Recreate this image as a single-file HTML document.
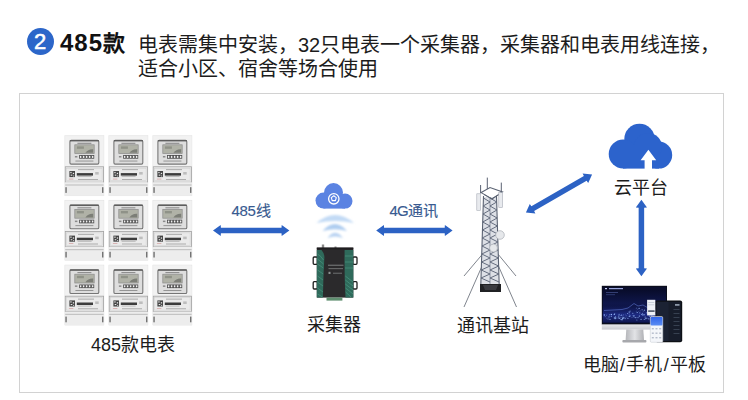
<!DOCTYPE html>
<html lang="zh-CN"><head><meta charset="utf-8">
<style>
html,body{margin:0;padding:0;background:#fff;}
body{width:748px;height:400px;position:relative;overflow:hidden;font-family:"Liberation Sans",sans-serif;color:#1c1c1c;}
.t{position:absolute;white-space:nowrap;}
</style></head><body>

<!-- header -->
<div class="t" style="left:27px;top:28px;width:27px;height:27px;border-radius:50%;background:#2c66c9;"></div>
<div class="t" style="left:26.5px;top:27.2px;width:27px;font-size:22px;line-height:30px;color:#fff;-webkit-text-stroke:0.5px #fff;text-align:center;">2</div>
<div class="t" id="h485" style="left:60px;top:28px;font-size:24px;font-weight:bold;line-height:30px;color:#111;letter-spacing:1px;">485<span style="font-size:22px;margin-left:0px;letter-spacing:0">款</span></div>
<div class="t" id="l1" style="left:138px;top:33px;font-size:20px;line-height:24px;">电表需集中安装，32只电表一个采集器，采集器和电表用线连接，</div>
<div class="t" id="l2" style="left:138px;top:57px;font-size:20px;line-height:24px;">适合小区、宿舍等场合使用</div>

<!-- frame -->
<div style="position:absolute;left:19px;top:93px;width:703px;height:298px;border:1px solid #d2d2d2;"></div>

<svg width="748" height="400" style="position:absolute;left:0;top:0">
<defs>
  <symbol id="meter" viewBox="0 0 40 61">
    <rect x="0.3" y="0.3" width="39.4" height="60.4" fill="#eeeeee" stroke="#dedede" stroke-width="0.6"/>
    <rect x="1" y="1" width="38" height="30" fill="#f2f2f2"/>
    <rect x="5.5" y="5.2" width="28.9" height="23.7" rx="1.3" fill="#dedede" stroke="#767676" stroke-width="1.1"/><rect x="5.5" y="4.8" width="28.9" height="1.4" fill="#5e5e5e"/>
    <rect x="10.4" y="9.6" width="19.4" height="8.8" fill="#b0b2a7" stroke="#8c8c8c" stroke-width="0.7"/>
    <path d="M21 17.6 Q24 13.5 28.8 14 L28.8 17.6 Z" fill="#7c7e77"/>
    <rect x="12.5" y="11.2" width="7" height="2.4" fill="#8f9288"/>
    <rect x="13" y="7.6" width="14" height="0.9" fill="#7a7a7a"/>
    <g fill="#f0f0f0" stroke="#4a4a4a" stroke-width="0.8"><rect x="15.2" y="20.3" width="2.2" height="2.8"/><rect x="18.2" y="20.3" width="2.2" height="2.8"/><rect x="21.2" y="20.3" width="2.2" height="2.8"/><rect x="24.2" y="20.3" width="2.2" height="2.8"/><rect x="27.2" y="20.3" width="2.2" height="2.8"/></g>
    <rect x="10.5" y="20.8" width="2.5" height="1.5" fill="#8a8a8a"/>
    <rect x="11" y="25.4" width="18" height="0.9" fill="#8d8d8d"/>
    <rect x="0.8" y="31.6" width="38.4" height="15.4" fill="#eaeaea" stroke="#a2a2a2" stroke-width="0.8"/>
    <rect x="2.3" y="33.1" width="35.4" height="12.4" fill="none" stroke="#cdcdcd" stroke-width="0.5"/>
    <rect x="5" y="35.8" width="5.6" height="6.1" fill="#444"/>
    <g fill="#e6e6e6"><rect x="5.9" y="36.7" width="1.3" height="1.3"/><rect x="8.4" y="37.6" width="1.3" height="1.3"/><rect x="6.3" y="39.4" width="1.6" height="1.1"/><rect x="8.8" y="40.3" width="1" height="1"/></g>
    <rect x="13.6" y="34.1" width="16" height="0.8" fill="#9a9a9a"/>
    <rect x="12.4" y="37.9" width="16.2" height="2.5" fill="#3c3c3c"/>
    <rect x="13.2" y="41.1" width="14" height="0.7" fill="#a8a8a8"/>
    <rect x="13.6" y="43.8" width="20" height="0.8" fill="#9e9e9e"/>
    <rect x="4.5" y="43.5" width="4.5" height="0.7" fill="#d09c9c"/>
    <rect x="30.8" y="36.8" width="3.5" height="2.6" fill="#bdbdbd"/>
    <rect x="0.8" y="47" width="38.4" height="13.4" fill="#ededed"/>
    <rect x="0.8" y="49.2" width="38.4" height="1.2" fill="#c4c4c4"/>
    <rect x="1" y="52" width="1.3" height="5.7" fill="#666"/>
    <rect x="37.7" y="52" width="1.3" height="5.7" fill="#666"/>
  </symbol>
  <symbol id="arr" viewBox="-38 -7 76 14" overflow="visible">
    <path d="M-38 0 L-29 -6.5 L-30 -3 L30 -3 L29 -6.5 L38 0 L29 6.5 L30 3 L-30 3 L-29 6.5 Z" fill="#2c62c4"/>
  </symbol>
  <linearGradient id="wifi" x1="0" y1="0" x2="0" y2="1">
    <stop offset="0" stop-color="#9cc6ef"/><stop offset="1" stop-color="#e5f0fb"/>
  </linearGradient>
  <linearGradient id="scr" x1="0" y1="0" x2="0" y2="1">
    <stop offset="0" stop-color="#070a24"/><stop offset="0.45" stop-color="#0f164a"/><stop offset="1" stop-color="#0b1140"/>
  </linearGradient>
</defs>

<!-- meters -->
<use href="#meter" x="64.4" y="135.2" width="40" height="61"/>
<use href="#meter" x="108.4" y="135.2" width="40" height="61"/>
<use href="#meter" x="152.4" y="135.2" width="40" height="61"/>
<use href="#meter" x="64.4" y="199.8" width="40" height="61"/>
<use href="#meter" x="108.4" y="199.8" width="40" height="61"/>
<use href="#meter" x="152.4" y="199.8" width="40" height="61"/>
<use href="#meter" x="64.4" y="264.6" width="40" height="61"/>
<use href="#meter" x="108.4" y="264.6" width="40" height="61"/>
<use href="#meter" x="152.4" y="264.6" width="40" height="61"/>

<!-- arrows -->
<g transform="translate(251.2 230.5)"><path d="M-38.2 0 L-30.5 -5.6 L-30.3 -2.75 L30.3 -2.75 L30.5 -5.6 L38.2 0 L30.5 5.6 L30.3 2.75 L-30.3 2.75 L-30.5 5.6 Z" fill="#2c62c4"/></g>
<g transform="translate(414.4 230.5)"><path d="M-38.2 0 L-30.5 -5.6 L-30.3 -2.75 L30.3 -2.75 L30.5 -5.6 L38.2 0 L30.5 5.6 L30.3 2.75 L-30.3 2.75 L-30.5 5.6 Z" fill="#2c62c4"/></g>
<g transform="translate(559 193.5) rotate(-30)"><path d="M-38.2 0 L-30.5 -5.6 L-30.3 -2.75 L30.3 -2.75 L30.5 -5.6 L38.2 0 L30.5 5.6 L30.3 2.75 L-30.3 2.75 L-30.5 5.6 Z" fill="#2c62c4"/></g>
<g transform="translate(641.4 238) rotate(90)"><path d="M-38.2 0 L-30.5 -5.6 L-30.3 -2.75 L30.3 -2.75 L30.5 -5.6 L38.2 0 L30.5 5.6 L30.3 2.75 L-30.3 2.75 L-30.5 5.6 Z" fill="#2c62c4"/></g>

<!-- small cloud -->
<g fill="#5b83e2">
  <circle cx="323.5" cy="200.6" r="8"/>
  <circle cx="333.5" cy="192.6" r="9.5"/>
  <circle cx="345" cy="201.1" r="7.5"/>
  <rect x="323.5" y="196" width="21.5" height="12.6"/>
</g>
<circle cx="333.8" cy="198.8" r="5.2" fill="none" stroke="#fff" stroke-width="1.3"/>
<path d="M333.8 195.8 L336.3 197.6 L335.4 200.6 L332.2 200.6 L331.3 197.6 Z" fill="none" stroke="#fff" stroke-width="1.1" stroke-linejoin="round"/>
<!-- wifi -->
<filter id="bl" x="-20%" y="-80%" width="140%" height="260%"><feGaussianBlur stdDeviation="0.9"/></filter>
<g filter="url(#bl)">
  <path d="M316.5 223 Q335 207 354 223 Q335 219 316.5 223 Z" fill="#c2daf5"/>
  <path d="M322.5 231 Q335 217 347 231 Q335 227.5 322.5 231 Z" fill="#afcdf0"/>
  <path d="M327.5 238 Q335 227.5 343 238 Q335 235 327.5 238 Z" fill="#b9d3f2"/>
</g>
<!-- collector device -->
<g>
  <rect x="313.2" y="257" width="4.2" height="7.3" rx="1" fill="none" stroke="#1e1e1e" stroke-width="1.3"/>
  <rect x="313.2" y="281.7" width="4.2" height="7.3" rx="1" fill="none" stroke="#1e1e1e" stroke-width="1.3"/>
  <rect x="352.8" y="257" width="4.2" height="7.3" rx="1" fill="none" stroke="#1e1e1e" stroke-width="1.3"/>
  <rect x="352.8" y="281.7" width="4.2" height="7.3" rx="1" fill="none" stroke="#1e1e1e" stroke-width="1.3"/>
  <rect x="321.8" y="244.5" width="2.4" height="4" fill="#8a8a8a"/>
  <rect x="334.5" y="246.5" width="2" height="2" fill="#8a8a8a"/>
  <rect x="316.8" y="247.6" width="36.5" height="50" fill="#2b2a2c"/>
  <path d="M316.8 250 L321.5 250 Q325 254 324.3 259 L323.6 273 L322.9 297.6 L316.8 297.6 Z" fill="#2f6a5b"/>
  <path d="M344.6 250 L353.3 250 L353.3 297.6 L345.5 297.6 Q344.2 275 344.6 250 Z" fill="#2f6a5b"/>
  <g stroke="#4f9c86" stroke-width="0.6" fill="none">
    <path d="M317.5 254 Q321 256 323.5 260 M317.5 259 L323.5 264 M317.5 264 L323.4 268 M317.5 270 L323.2 274 M317.5 276 L323 280 M317.5 282 L323 286 M317.5 288 L323 292 M317.5 294 L322.5 297"/>
    <path d="M345.3 276 L353 282 M345.3 280 L353 286 M345.3 284 L353 290 M345.5 288 L353 294 M345.6 292 L351 297 M345 256 L353 256 M345 262 L353 262 M345 268 L353 268"/>
  </g>
  <rect x="316.8" y="247.6" width="36.5" height="1.8" fill="#1e1d1f"/>
  <rect x="328" y="264.8" width="15.5" height="0.7" fill="#9ea2a2"/>
  <rect x="328.5" y="268.4" width="14.5" height="0.7" fill="#8a8e8e"/>
  <rect x="333" y="272.8" width="9" height="0.7" fill="#8a8e8e"/>
  <rect x="328.5" y="271.8" width="2" height="2.2" fill="#8d9191"/>
  <rect x="326.5" y="297.6" width="15.9" height="3" fill="#5f8f70"/>
</g>

<!-- tower -->
<g stroke="#707680" fill="none" stroke-width="0.9">
  <line x1="483" y1="253.5" x2="464" y2="276"/>
  <line x1="497.5" y1="253.5" x2="516" y2="276"/>
  <line x1="482.5" y1="265" x2="464" y2="307"/>
  <line x1="498" y1="265" x2="516.5" y2="307"/>
</g>
<path d="M483.5 197 L496.5 197 L499.2 285 L480.8 285 Z" fill="#dde0e6"/>
<g stroke="#5a6272" fill="none">
  <path d="M483.5 196 L480.8 285 M496.5 196 L499.2 285" stroke-width="1.1"/>
  <path d="M490 198 L490 285" stroke-width="0.8" stroke="#7a8292"/>
  <path d="M483.5 198.0 L490.0 202.0 L483.2 206.0 L490.0 210.0 L483.0 214.0 L490.0 218.0 L482.7 222.0 L490.0 226.0 L482.5 230.0 L490.0 234.0 L482.2 238.0 L490.0 242.0 L482.0 246.0 L490.0 250.0 L481.8 254.0 L490.0 258.0 L481.5 262.0 L490.0 266.0 L481.3 270.0 L490.0 274.0 L481.0 278.0 L490.0 282.0" stroke-width="0.95" stroke="#5e6678"/>
  <path d="M490.0 198.0 L496.7 202.0 L490.0 206.0 L496.9 210.0 L490.0 214.0 L497.1 218.0 L490.0 222.0 L497.4 226.0 L490.0 230.0 L497.6 234.0 L490.0 238.0 L497.9 242.0 L490.0 246.0 L498.1 250.0 L490.0 254.0 L498.4 258.0 L490.0 262.0 L498.6 266.0 L490.0 270.0 L498.9 274.0 L490.0 278.0 L499.1 282.0" stroke-width="0.95" stroke="#5e6678"/>
</g>
<g stroke="#5a6272" fill="none" stroke-width="1">
  <line x1="487.3" y1="177.6" x2="487.3" y2="189"/>
  <line x1="501.3" y1="182.6" x2="501.3" y2="193"/>
  <line x1="480.6" y1="185" x2="480.6" y2="193.5"/>
  <path d="M481.2 192.6 L490 187.6 L502.5 192 L491.9 198.9 Z" stroke-width="1.1"/>
  <path d="M484 194.5 L491.9 198.9 L500 194" stroke-width="0.9"/>
</g>
<rect x="476.8" y="193.8" width="3.8" height="16.5" fill="#e8eaee" stroke="#a8adb6" stroke-width="0.6"/>
<rect x="498.8" y="192.6" width="3.8" height="15" fill="#e8eaee" stroke="#a8adb6" stroke-width="0.6"/>
<circle cx="500" cy="235" r="4.3" fill="#e6e8eb" stroke="#a9adb4" stroke-width="0.7"/>
<circle cx="493.5" cy="248" r="4" fill="#e6e8eb" stroke="#a9adb4" stroke-width="0.7"/>
<path d="M480 284 L501 284 L501 292 L480 292 Z" fill="#202124"/>
<path d="M483 285 L498 285 L496 290 L485 290 Z" fill="#3a3b40"/>

<!-- big cloud -->
<g fill="#2c63cc">
  <circle cx="639.5" cy="139" r="15.2"/>
  <circle cx="623.2" cy="154.1" r="14.5"/>
  <circle cx="658.7" cy="155.1" r="13.5"/>
  <circle cx="648" cy="147" r="14"/>
  <rect x="623" y="145" width="36" height="23.6"/>
</g>
<path d="M648.4 149.8 L656.2 160.3 L652 160.3 L652 169 L644.6 169 L644.6 160.3 L640.6 160.3 Z" fill="#fff"/>

<!-- devices -->
<defs>
<linearGradient id="chin" x1="0" y1="0" x2="0" y2="1"><stop offset="0" stop-color="#e6e7ea"/><stop offset="1" stop-color="#c9cacf"/></linearGradient>
<linearGradient id="stand" x1="0" y1="0" x2="1" y2="0"><stop offset="0" stop-color="#b5b6ba"/><stop offset="0.5" stop-color="#e2e3e6"/><stop offset="1" stop-color="#b0b1b5"/></linearGradient>
<linearGradient id="band" x1="0" y1="0" x2="0" y2="1"><stop offset="0" stop-color="#1c2a80" stop-opacity="0"/><stop offset="0.55" stop-color="#2536a0" stop-opacity="0.7"/><stop offset="1" stop-color="#161f66" stop-opacity="0.5"/></linearGradient>
<linearGradient id="phone" x1="0" y1="0" x2="0" y2="1"><stop offset="0" stop-color="#2f64ea"/><stop offset="1" stop-color="#5b8df3"/></linearGradient>
</defs>
<rect x="601.8" y="285.8" width="65.2" height="38.8" fill="#0a0d1c"/>
<rect x="602.8" y="287" width="63.2" height="36" fill="url(#scr)"/>
<rect x="602.8" y="287" width="63.2" height="3" fill="#0b0f2c"/>
<rect x="605" y="288" width="2" height="1.2" fill="#cfd6ff"/>
<rect x="609" y="288" width="14" height="1.2" fill="#9aa6dd"/>
<rect x="606" y="292" width="12" height="0.6" fill="#5060a0"/>
<rect x="606" y="294.5" width="9" height="0.6" fill="#40508f"/>
<rect x="602.8" y="306" width="63.2" height="16" fill="url(#band)"/>
<path d="M604 310.5 L622 309.5 L628 308 L634 303.5 L638 306 L643 305 L650 309 L664 311" stroke="#6f8ef0" stroke-width="0.6" fill="none" opacity="0.8"/>
<circle cx="618.3" cy="316.3" r="0.48" fill="#9ec0ff" opacity="0.76"/>
<circle cx="641.5" cy="319.2" r="0.35" fill="#9ec0ff" opacity="0.90"/>
<circle cx="619.6" cy="318.4" r="0.70" fill="#9ec0ff" opacity="0.68"/>
<circle cx="654.2" cy="317.3" r="0.57" fill="#9ec0ff" opacity="0.49"/>
<circle cx="642.1" cy="309.8" r="0.53" fill="#9ec0ff" opacity="0.84"/>
<circle cx="644.3" cy="319.3" r="0.62" fill="#9ec0ff" opacity="0.75"/>
<circle cx="622.1" cy="319.8" r="0.65" fill="#9ec0ff" opacity="0.68"/>
<circle cx="647.1" cy="312.6" r="0.60" fill="#9ec0ff" opacity="0.95"/>
<circle cx="627.7" cy="313.6" r="0.51" fill="#9ec0ff" opacity="0.96"/>
<circle cx="656.7" cy="319.5" r="0.40" fill="#9ec0ff" opacity="0.53"/>
<circle cx="661.9" cy="317.8" r="0.57" fill="#9ec0ff" opacity="0.58"/>
<circle cx="634.4" cy="315.4" r="0.47" fill="#9ec0ff" opacity="0.75"/>
<circle cx="639.1" cy="308.3" r="0.59" fill="#9ec0ff" opacity="0.96"/>
<circle cx="655.4" cy="314.7" r="0.58" fill="#9ec0ff" opacity="0.50"/>
<circle cx="655.6" cy="314.8" r="0.67" fill="#9ec0ff" opacity="0.74"/>
<circle cx="646.8" cy="318.2" r="0.64" fill="#9ec0ff" opacity="0.74"/>
<circle cx="621.1" cy="319.6" r="0.65" fill="#9ec0ff" opacity="0.99"/>
<circle cx="609.3" cy="315.0" r="0.49" fill="#9ec0ff" opacity="0.49"/>
<circle cx="621.6" cy="315.0" r="0.66" fill="#9ec0ff" opacity="0.43"/>
<circle cx="640.9" cy="319.4" r="0.60" fill="#9ec0ff" opacity="0.60"/>
<circle cx="656.9" cy="314.9" r="0.53" fill="#9ec0ff" opacity="1.00"/>
<circle cx="622.6" cy="319.5" r="0.56" fill="#9ec0ff" opacity="0.42"/>
<circle cx="615.8" cy="317.1" r="0.56" fill="#9ec0ff" opacity="0.49"/>
<circle cx="606.5" cy="315.1" r="0.46" fill="#9ec0ff" opacity="0.98"/>
<circle cx="657.8" cy="318.1" r="0.51" fill="#9ec0ff" opacity="0.71"/>
<circle cx="642.6" cy="313.2" r="0.55" fill="#9ec0ff" opacity="0.77"/>
<circle cx="660.4" cy="317.4" r="0.50" fill="#9ec0ff" opacity="0.83"/>
<circle cx="618.3" cy="317.9" r="0.69" fill="#9ec0ff" opacity="0.71"/>
<circle cx="636.9" cy="319.9" r="0.50" fill="#9ec0ff" opacity="0.75"/>
<circle cx="605.2" cy="316.6" r="0.57" fill="#9ec0ff" opacity="0.44"/>
<circle cx="641.6" cy="314.4" r="0.59" fill="#9ec0ff" opacity="0.61"/>
<circle cx="646.4" cy="313.4" r="0.36" fill="#9ec0ff" opacity="0.44"/>
<circle cx="644.6" cy="310.2" r="0.44" fill="#9ec0ff" opacity="0.67"/>
<circle cx="639.6" cy="315.9" r="0.48" fill="#9ec0ff" opacity="0.59"/>
<circle cx="626.1" cy="315.7" r="0.46" fill="#9ec0ff" opacity="0.63"/>
<circle cx="650.3" cy="319.8" r="0.55" fill="#9ec0ff" opacity="0.84"/>
<circle cx="622.6" cy="318.5" r="0.63" fill="#9ec0ff" opacity="0.54"/>
<circle cx="615.2" cy="316.9" r="0.59" fill="#9ec0ff" opacity="0.46"/>
<circle cx="623.3" cy="317.8" r="0.64" fill="#9ec0ff" opacity="0.66"/>
<circle cx="655.3" cy="319.1" r="0.47" fill="#9ec0ff" opacity="0.79"/>
<circle cx="657.1" cy="317.7" r="0.43" fill="#9ec0ff" opacity="0.47"/>
<circle cx="635.8" cy="317.6" r="0.63" fill="#9ec0ff" opacity="0.90"/>
<circle cx="615.0" cy="318.0" r="0.63" fill="#9ec0ff" opacity="0.79"/>
<circle cx="652.4" cy="317.9" r="0.40" fill="#9ec0ff" opacity="0.58"/>
<circle cx="651.6" cy="318.3" r="0.47" fill="#9ec0ff" opacity="0.65"/>
<circle cx="629.2" cy="316.4" r="0.67" fill="#9ec0ff" opacity="0.49"/>
<circle cx="604.3" cy="315.0" r="0.66" fill="#9ec0ff" opacity="0.99"/>
<circle cx="630.1" cy="311.1" r="0.67" fill="#9ec0ff" opacity="0.53"/>
<circle cx="648.7" cy="313.7" r="0.58" fill="#9ec0ff" opacity="0.71"/>
<circle cx="621.3" cy="317.8" r="0.43" fill="#9ec0ff" opacity="0.44"/>
<circle cx="639.3" cy="316.3" r="0.63" fill="#9ec0ff" opacity="0.43"/>
<circle cx="658.2" cy="316.4" r="0.67" fill="#9ec0ff" opacity="0.94"/>
<circle cx="658.0" cy="317.0" r="0.35" fill="#9ec0ff" opacity="0.85"/>
<circle cx="614.3" cy="317.9" r="0.58" fill="#9ec0ff" opacity="0.71"/>
<circle cx="628.8" cy="312.0" r="0.56" fill="#9ec0ff" opacity="0.60"/>
<circle cx="619.1" cy="314.2" r="0.52" fill="#9ec0ff" opacity="0.87"/>
<circle cx="625.1" cy="318.6" r="0.54" fill="#9ec0ff" opacity="0.89"/>
<circle cx="614.3" cy="314.4" r="0.67" fill="#9ec0ff" opacity="0.88"/>
<circle cx="653.4" cy="320.0" r="0.57" fill="#9ec0ff" opacity="0.92"/>
<circle cx="607.0" cy="318.4" r="0.44" fill="#9ec0ff" opacity="0.72"/>
<circle cx="629.4" cy="315.8" r="0.62" fill="#9ec0ff" opacity="0.40"/>
<circle cx="607.3" cy="319.3" r="0.39" fill="#9ec0ff" opacity="0.44"/>
<circle cx="662.5" cy="315.7" r="0.38" fill="#9ec0ff" opacity="0.70"/>
<circle cx="623.0" cy="317.9" r="0.47" fill="#9ec0ff" opacity="0.79"/>
<circle cx="639.2" cy="315.4" r="0.42" fill="#9ec0ff" opacity="0.60"/>
<circle cx="611.4" cy="316.3" r="0.60" fill="#9ec0ff" opacity="0.63"/>
<circle cx="608.8" cy="318.9" r="0.48" fill="#9ec0ff" opacity="0.76"/>
<circle cx="651.0" cy="317.5" r="0.63" fill="#9ec0ff" opacity="0.77"/>
<circle cx="629.9" cy="316.6" r="0.52" fill="#9ec0ff" opacity="0.82"/>
<circle cx="629.2" cy="313.9" r="0.51" fill="#9ec0ff" opacity="0.55"/>
<circle cx="636.2" cy="311.1" r="0.38" fill="#9ec0ff" opacity="0.65"/>
<circle cx="629.6" cy="312.1" r="0.68" fill="#9ec0ff" opacity="0.62"/>
<circle cx="657.9" cy="315.9" r="0.44" fill="#9ec0ff" opacity="0.68"/>
<circle cx="611.4" cy="314.6" r="0.58" fill="#9ec0ff" opacity="0.93"/>
<circle cx="651.5" cy="315.8" r="0.61" fill="#9ec0ff" opacity="0.74"/>
<circle cx="610.2" cy="316.2" r="0.35" fill="#9ec0ff" opacity="0.49"/>
<circle cx="650.5" cy="319.7" r="0.38" fill="#9ec0ff" opacity="0.46"/>
<circle cx="656.8" cy="319.1" r="0.36" fill="#9ec0ff" opacity="0.90"/>
<circle cx="611.3" cy="314.4" r="0.59" fill="#9ec0ff" opacity="0.90"/>
<circle cx="661.1" cy="317.1" r="0.63" fill="#9ec0ff" opacity="0.42"/>
<circle cx="650.0" cy="316.5" r="0.60" fill="#9ec0ff" opacity="0.46"/>
<circle cx="648.9" cy="313.1" r="0.37" fill="#9ec0ff" opacity="0.59"/>
<circle cx="637.8" cy="309.2" r="0.43" fill="#9ec0ff" opacity="0.51"/>
<circle cx="619.0" cy="315.8" r="0.61" fill="#9ec0ff" opacity="0.64"/>
<circle cx="626.0" cy="317.1" r="0.47" fill="#9ec0ff" opacity="0.65"/>
<circle cx="609.0" cy="316.9" r="0.69" fill="#9ec0ff" opacity="0.65"/>
<circle cx="648.8" cy="318.8" r="0.59" fill="#9ec0ff" opacity="0.85"/>
<circle cx="644.4" cy="314.7" r="0.52" fill="#9ec0ff" opacity="0.79"/>
<circle cx="657.8" cy="319.2" r="0.38" fill="#9ec0ff" opacity="0.85"/>
<circle cx="659.0" cy="317.4" r="0.51" fill="#9ec0ff" opacity="0.83"/>
<circle cx="615.2" cy="318.1" r="0.42" fill="#9ec0ff" opacity="0.75"/>
<circle cx="622.9" cy="318.5" r="0.59" fill="#9ec0ff" opacity="0.97"/>
<circle cx="621.8" cy="315.4" r="0.49" fill="#9ec0ff" opacity="0.91"/>
<circle cx="639.1" cy="316.6" r="0.43" fill="#9ec0ff" opacity="0.41"/>
<circle cx="632.8" cy="315.8" r="0.41" fill="#9ec0ff" opacity="0.62"/>
<circle cx="623.3" cy="314.9" r="0.40" fill="#9ec0ff" opacity="0.99"/>
<circle cx="632.8" cy="313.3" r="0.51" fill="#9ec0ff" opacity="0.90"/>
<circle cx="653.3" cy="316.8" r="0.52" fill="#9ec0ff" opacity="0.83"/>
<circle cx="655.4" cy="317.8" r="0.61" fill="#9ec0ff" opacity="0.98"/>
<circle cx="632.0" cy="317.6" r="0.43" fill="#9ec0ff" opacity="0.83"/>
<circle cx="644.5" cy="310.2" r="0.65" fill="#9ec0ff" opacity="0.55"/>
<circle cx="615.4" cy="318.2" r="0.42" fill="#9ec0ff" opacity="0.82"/>
<circle cx="655.5" cy="315.2" r="0.44" fill="#9ec0ff" opacity="0.92"/>
<circle cx="622.8" cy="317.2" r="0.61" fill="#9ec0ff" opacity="0.45"/>
<circle cx="609.6" cy="314.8" r="0.45" fill="#9ec0ff" opacity="0.61"/>
<circle cx="638.8" cy="311.3" r="0.35" fill="#9ec0ff" opacity="0.60"/>
<circle cx="630.2" cy="315.4" r="0.42" fill="#9ec0ff" opacity="0.75"/>
<circle cx="661.3" cy="318.0" r="0.54" fill="#9ec0ff" opacity="0.47"/>
<circle cx="620.5" cy="315.6" r="0.39" fill="#9ec0ff" opacity="0.93"/>
<circle cx="658.5" cy="319.5" r="0.68" fill="#9ec0ff" opacity="0.62"/>
<circle cx="650.3" cy="314.9" r="0.45" fill="#9ec0ff" opacity="0.81"/>
<circle cx="643.2" cy="311.1" r="0.44" fill="#9ec0ff" opacity="0.85"/>
<circle cx="661.7" cy="316.6" r="0.54" fill="#9ec0ff" opacity="0.47"/>
<circle cx="633.6" cy="315.9" r="0.60" fill="#9ec0ff" opacity="0.81"/>
<circle cx="638.0" cy="317.6" r="0.58" fill="#9ec0ff" opacity="0.78"/>
<circle cx="614.7" cy="313.7" r="0.58" fill="#9ec0ff" opacity="0.47"/>
<circle cx="659.9" cy="319.3" r="0.47" fill="#9ec0ff" opacity="0.83"/>
<circle cx="639.8" cy="312.9" r="0.58" fill="#9ec0ff" opacity="0.67"/>
<circle cx="622.7" cy="318.8" r="0.37" fill="#9ec0ff" opacity="0.83"/>
<circle cx="649.3" cy="316.1" r="0.61" fill="#9ec0ff" opacity="0.62"/>
<circle cx="620.0" cy="317.4" r="0.66" fill="#9ec0ff" opacity="0.43"/>
<circle cx="634.3" cy="317.0" r="0.62" fill="#9ec0ff" opacity="0.61"/>
<circle cx="624.0" cy="317.3" r="0.54" fill="#9ec0ff" opacity="0.86"/>
<circle cx="625.2" cy="314.1" r="0.39" fill="#9ec0ff" opacity="0.56"/>
<circle cx="610.0" cy="319.3" r="0.62" fill="#9ec0ff" opacity="0.84"/>
<circle cx="615.1" cy="318.7" r="0.50" fill="#9ec0ff" opacity="0.85"/>
<circle cx="652.9" cy="315.6" r="0.56" fill="#9ec0ff" opacity="0.49"/>
<circle cx="627.9" cy="318.4" r="0.53" fill="#9ec0ff" opacity="0.74"/>
<circle cx="616.1" cy="318.2" r="0.62" fill="#9ec0ff" opacity="0.42"/>
<circle cx="652.2" cy="314.6" r="0.68" fill="#9ec0ff" opacity="0.63"/>
<circle cx="637.2" cy="312.5" r="0.57" fill="#9ec0ff" opacity="0.99"/>
<circle cx="645.2" cy="317.1" r="0.65" fill="#9ec0ff" opacity="0.69"/>
<circle cx="640.1" cy="310.8" r="0.35" fill="#9ec0ff" opacity="0.86"/>
<circle cx="643.7" cy="314.7" r="0.53" fill="#9ec0ff" opacity="0.68"/>
<circle cx="615.6" cy="316.3" r="0.36" fill="#9ec0ff" opacity="0.70"/>
<circle cx="642.8" cy="314.9" r="0.55" fill="#9ec0ff" opacity="0.98"/>
<circle cx="657.5" cy="319.3" r="0.63" fill="#9ec0ff" opacity="0.77"/>
<circle cx="607.0" cy="317.9" r="0.43" fill="#9ec0ff" opacity="0.45"/>
<circle cx="636.3" cy="308.1" r="0.46" fill="#9ec0ff" opacity="0.92"/>
<circle cx="645.7" cy="318.7" r="0.65" fill="#9ec0ff" opacity="0.76"/>
<rect x="601.8" y="324.6" width="65.2" height="5" fill="url(#chin)"/>
<path d="M626.3 329.6 L643.3 329.6 L644 340.3 L625.6 340.3 Z" fill="url(#stand)"/>
<rect x="622.4" y="340" width="24" height="2.6" rx="0.8" fill="#a7a8ac"/>
<rect x="655.2" y="300.4" width="27" height="41.9" rx="2" fill="#0d1015"/>
<rect x="656.6" y="301.8" width="24.2" height="39.2" fill="#171d2b"/>
<rect x="656.6" y="301.8" width="12" height="39.2" fill="#1b2233"/>
<rect x="675" y="304" width="4.5" height="1.8" fill="#8a96a6"/>
<g fill="#3f4a5a"><rect x="673.5" y="309" width="6" height="0.8"/><rect x="673.5" y="313" width="6" height="0.8"/><rect x="673.5" y="317" width="6" height="0.8"/><rect x="673.5" y="321" width="6" height="0.8"/><rect x="673.5" y="325" width="6" height="0.8"/><rect x="673.5" y="329" width="6" height="0.8"/><rect x="673.5" y="333" width="6" height="0.8"/></g>
<rect x="647.1" y="299.8" width="8.2" height="15.6" fill="#eef1f6"/>
<rect x="648.2" y="302" width="6" height="0.7" fill="#b8c0cc"/>
<rect x="648.2" y="304.5" width="6" height="0.7" fill="#b8c0cc"/>
<rect x="648.2" y="310.3" width="6.4" height="1.6" fill="#4b5566"/>
<rect x="650.3" y="316.6" width="12.5" height="25.7" rx="1.2" fill="#f4f6fa" stroke="#c4c8d0" stroke-width="0.5"/>
<rect x="650.6" y="316.9" width="11.9" height="8.6" rx="1" fill="url(#phone)"/>
<g fill="#b4bccb"><rect x="651.8" y="328" width="2" height="1.4"/><rect x="655.5" y="328" width="2" height="1.4"/><rect x="659.2" y="328" width="2" height="1.4"/><rect x="651.8" y="332.5" width="2" height="1.4"/><rect x="655.5" y="332.5" width="2" height="1.4"/><rect x="659.2" y="332.5" width="2" height="1.4"/><rect x="651.8" y="337" width="2" height="1.4"/><rect x="655.5" y="337" width="2" height="1.4"/><rect x="659.2" y="337" width="2" height="1.4"/></g>
</svg>

<!-- labels -->
<div class="t" style="left:231.5px;top:200.5px;font-size:15px;line-height:20px;color:#385a90;-webkit-text-stroke:0.15px #385a90;"><span style="letter-spacing:-0.3px">485</span><span style="font-size:15px">线</span></div>
<div class="t" style="left:389.5px;top:200.8px;font-size:15px;line-height:20px;color:#385a90;-webkit-text-stroke:0.15px #385a90;"><span style="letter-spacing:-0.8px">4G</span><span style="font-size:15px">通讯</span></div>
<div class="t" style="left:91px;top:333px;font-size:18px;line-height:24px;">485款电表</div>
<div class="t" style="left:307px;top:313px;font-size:18px;line-height:24px;">采集器</div>
<div class="t" style="left:457px;top:314px;font-size:18px;line-height:24px;">通讯基站</div>
<div class="t" style="left:614px;top:175.5px;font-size:18px;line-height:24px;">云平台</div>
<div class="t" style="left:582.5px;top:353px;font-size:18px;line-height:24px;">电脑<span style="margin:0 1.4px">/</span>手机<span style="margin:0 1.4px">/</span>平板</div>

</body></html>
